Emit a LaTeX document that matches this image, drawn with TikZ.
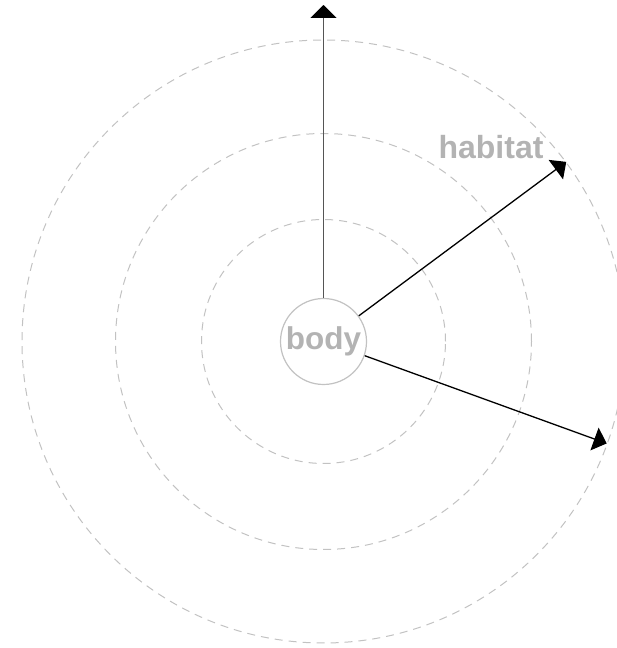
\documentclass[tikz,border=0pt]{standalone}
\usepackage{fontspec}
\setmainfont{Liberation Sans}
\usetikzlibrary{arrows.meta,calc}
\definecolor{ringgray}{HTML}{C2C2C2}
\definecolor{txtgray}{HTML}{B3B3B3}
\definecolor{upgray}{HTML}{555555}
\tikzset{
  ring/.style={draw=ringgray, line width=1pt, dash pattern=on 8pt off 6pt},
  bodycircle/.style={circle, draw=ringgray, line width=1.2pt, minimum size=86pt, inner sep=0pt,
    font=\fontsize{31.5}{36}\selectfont\bfseries, text=txtgray},
  lbl/.style={font=\fontsize{32}{36}\selectfont\bfseries, text=txtgray, inner sep=0pt},
  arr/.style={line width=1.3pt, -{Triangle[length=13pt,width=24pt]}},
  uparr/.style={line width=1.7pt, draw=upgray, -{Triangle[length=13pt,width=26pt,color=black,fill=black]}},
}
\begin{document}
\begin{tikzpicture}[x=1pt,y=1pt]
\useasboundingbox (0,0) rectangle (616,648);
\coordinate (c) at (323.5,306.5);
\draw[ring] (c) circle (122);
\draw[ring] (c) circle (208);
\draw[ring] (c) circle (301.5);
\node[bodycircle] (body) at (c) {body};
\coordinate (tipup) at (323.5,643);
\coordinate (tiphab) at ($(c)+(36.5:302)$);
\coordinate (tipr) at ($(c)+(-19.8:301)$);
\draw[uparr] (body.north) -- (tipup);
\draw[arr, draw=black] (body.36.5) -- (tiphab);
\draw[arr, draw=black] (body.-19.8) -- (tipr);
\node[lbl, anchor=base] (hab) at (491,489) {habitat};
\end{tikzpicture}
\end{document}
